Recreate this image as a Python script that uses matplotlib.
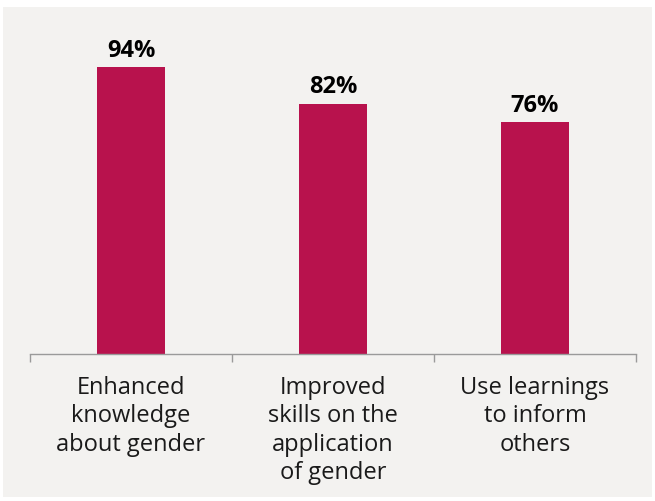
import numpy as np
import matplotlib
matplotlib.use("Agg")
import matplotlib.pyplot as plt
from matplotlib.patches import Rectangle

categories = ["Enhanced\nknowledge\nabout gender",
              "Improved\nskills on the\napplication\nof gender",
              "Use learnings\nto inform\nothers"]
values = [94, 82, 76]
value_labels = ["94%", "82%", "76%"]

bar_color = "#b8124d"
panel_color = "#f3f2f0"
axis_color = "#9a9a9a"

fig = plt.figure(figsize=(6.55, 5.02), dpi=100)
fig.patch.set_facecolor("white")

# gray panel behind the chart
fig.add_artist(Rectangle((3 / 655, 4 / 502), 649 / 655, 490 / 502,
                         transform=fig.transFigure, facecolor=panel_color,
                         edgecolor="none", zorder=-10))

ax = fig.add_axes([30 / 655, (502 - 355) / 502, 606 / 655, 305 / 502])
ax.set_facecolor("none")
ax.set_zorder(1)

x = np.arange(len(categories))
ax.bar(x, values, width=0.34, color=bar_color, zorder=2)

for xi, v, lab in zip(x, values, value_labels):
    ax.annotate(lab, (xi, v), xytext=(0, 4), textcoords="offset points",
                ha="center", va="bottom", fontsize=17, fontweight="bold",
                family="Open Sans", color="black")

ax.set_xlim(-0.5, 2.5)
ax.set_ylim(0, 100)

for s in ["top", "right", "left"]:
    ax.spines[s].set_visible(False)
ax.spines["bottom"].set_color(axis_color)
ax.spines["bottom"].set_linewidth(1.0)
ax.set_yticks([])

ax.set_xticks(x)
ax.set_xticklabels(categories, fontsize=17, family="Open Sans", color="#1a1a1a",
                   linespacing=1.25, va="top")
ax.tick_params(axis="x", which="major", length=0, pad=15)
ax.set_xticks([-0.5, 0.5, 1.5, 2.5], minor=True)
ax.tick_params(axis="x", which="minor", length=6, width=1.0, color=axis_color,
               direction="out")

fig.savefig("out.png", dpi=100, facecolor=fig.get_facecolor())
